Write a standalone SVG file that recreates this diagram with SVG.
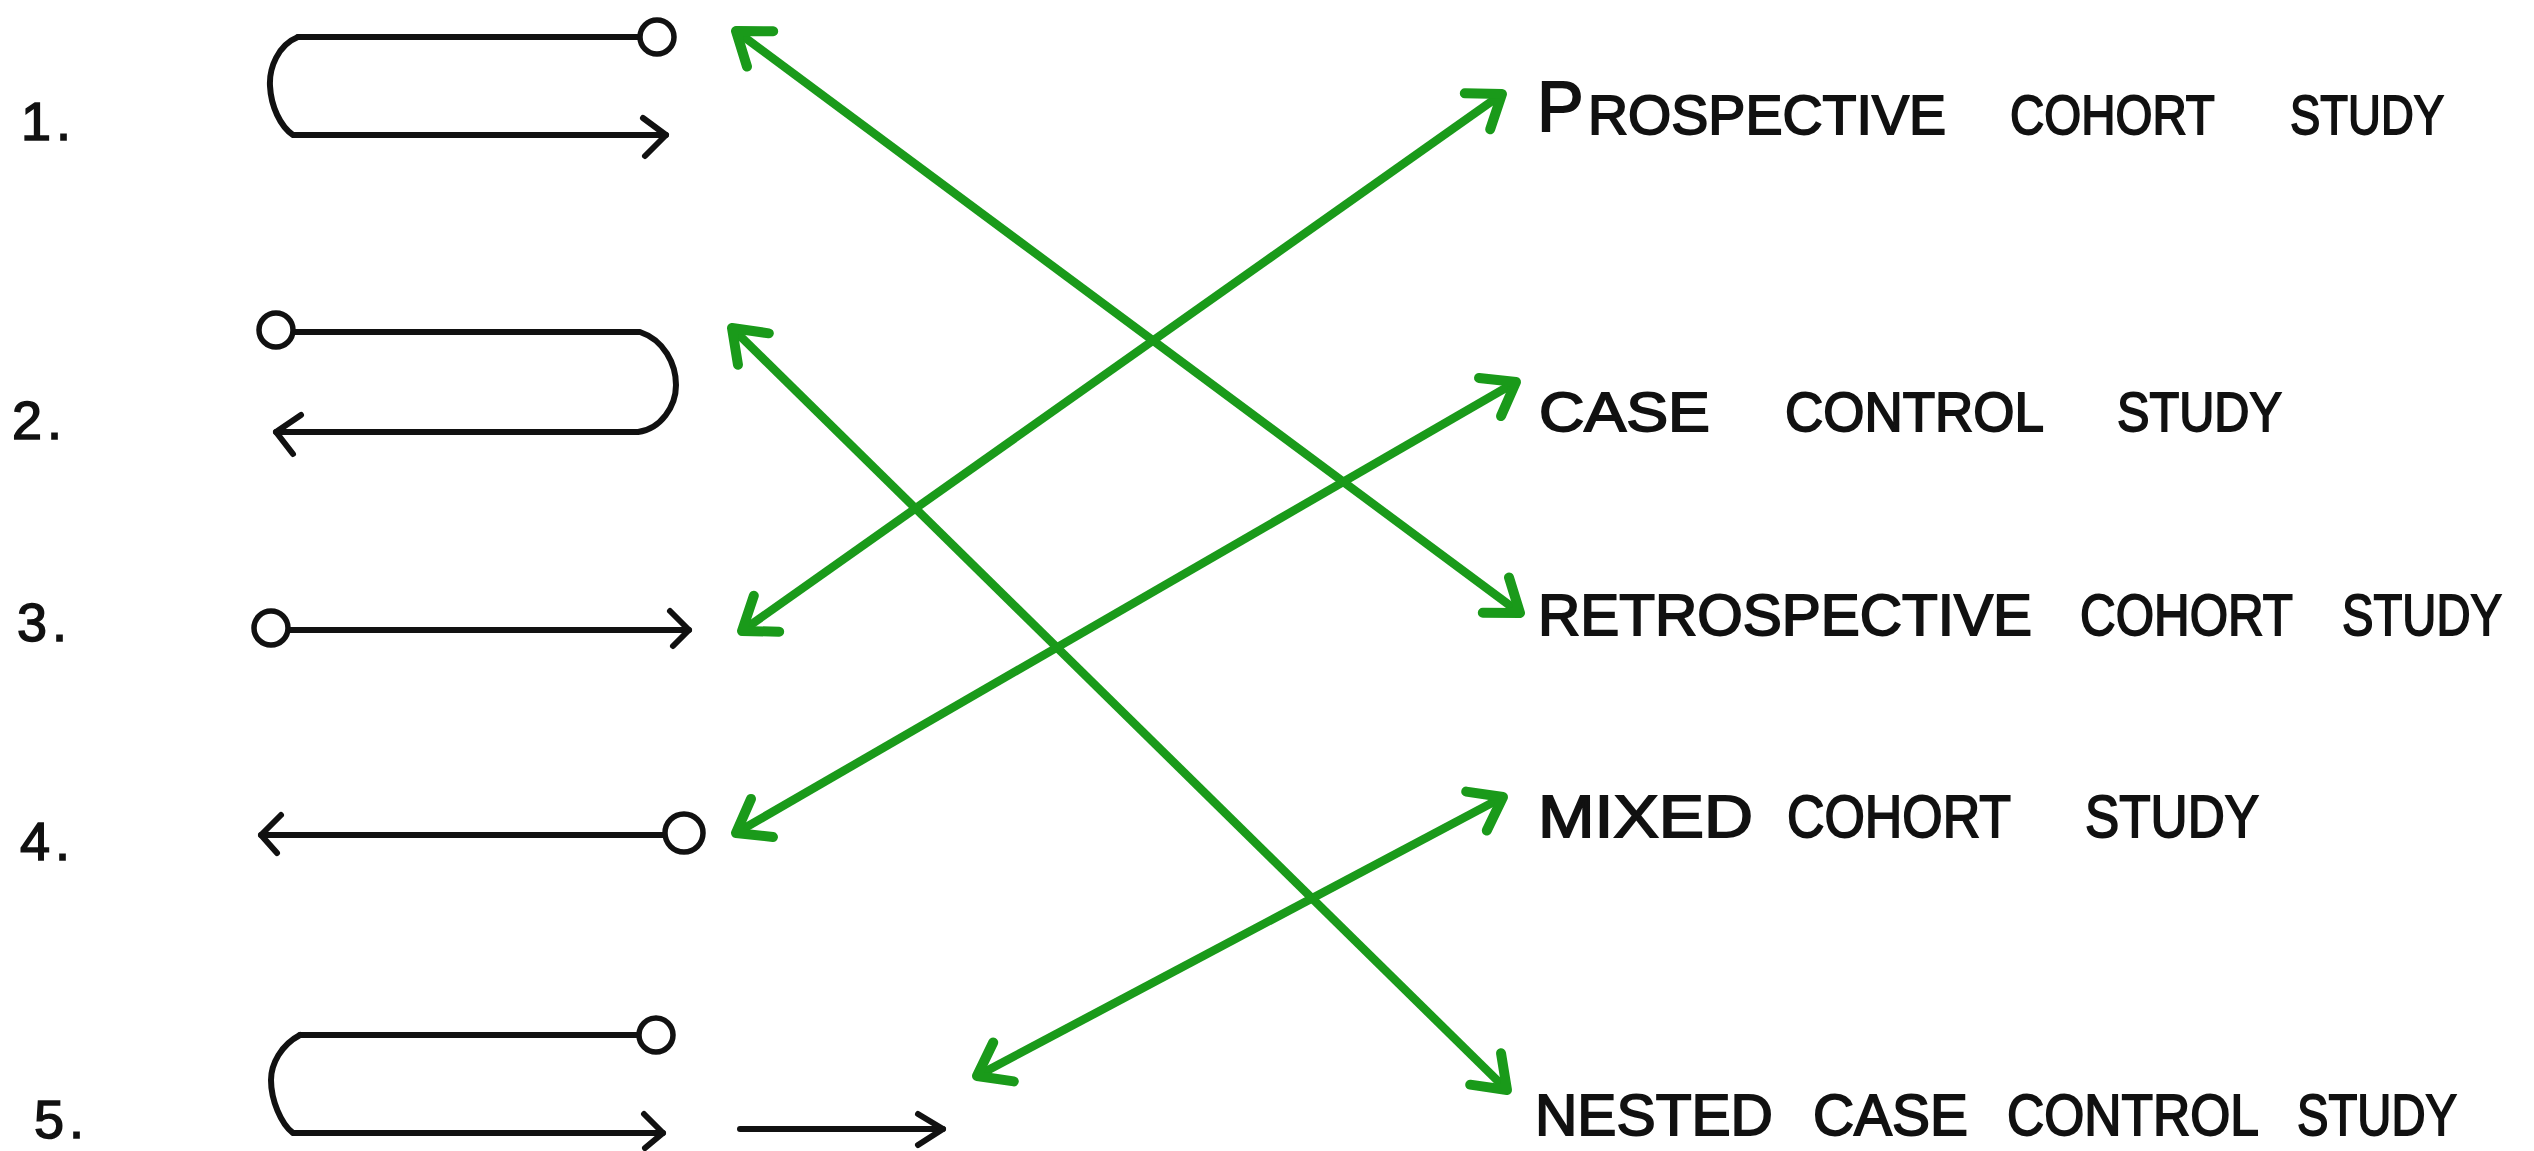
<svg xmlns="http://www.w3.org/2000/svg" width="2534" height="1151" viewBox="0 0 2534 1151">
<style>
.bk{fill:none;stroke:#111;stroke-width:6;stroke-linecap:round;stroke-linejoin:round}
.dot{fill:#fff;stroke:#111;stroke-width:5.5}
.num{font-family:"Liberation Sans",Arial,sans-serif;font-size:54px;fill:#111;stroke:#111;stroke-width:1.5;letter-spacing:5px}
.lbl{font-family:"Liberation Sans",Arial,sans-serif;fill:#111;stroke:#111;stroke-width:1.8}
.gr{fill:none;stroke:#1a9a1a;stroke-width:8.5;marker-start:url(#ah);marker-end:url(#ah)}
</style>
<defs>
<marker id="ah" markerUnits="userSpaceOnUse" markerWidth="60" markerHeight="60" viewBox="-40 -30 60 60" refX="0" refY="0" orient="auto-start-reverse" overflow="visible">
<path d="M-30,-22 L0,0 L-30,22" fill="none" stroke="#1a9a1a" stroke-width="10" stroke-linecap="round" stroke-linejoin="round"/>
</marker>
</defs>
<rect width="2534" height="1151" fill="#fff"/>

<g id="item-1">
<text class="num" x="21" y="140">1.</text>
<path class="bk" d="M298,37 L640,37"/>
<path class="bk" d="M298,37 C278,45 269,68 270,86 C271,106 280,126 293,135 L666,135"/>
<path class="bk" d="M643,118 L666,135 L645,156"/>
<circle class="dot" cx="657" cy="37" r="17"/>
</g>

<g id="item-2">
<text class="num" x="12" y="439">2.</text>
<path class="bk" d="M293,332 L640,332 C664,340 676,364 676,385 C676,406 661,429 638,432 L276,432"/>
<path class="bk" d="M301,415 L276,432 L293,454"/>
<circle class="dot" cx="276" cy="330" r="17"/>
</g>

<g id="item-3">
<text class="num" x="17" y="641">3.</text>
<path class="bk" d="M288,630 L689,630"/>
<path class="bk" d="M670,611 L689,630 L673,646"/>
<circle class="dot" cx="271" cy="628" r="17"/>
</g>

<g id="item-4">
<text class="num" x="20" y="860">4.</text>
<path class="bk" d="M261,835 L664,835"/>
<path class="bk" d="M281,815 L261,835 L277,853"/>
<circle class="dot" cx="684" cy="833" r="19"/>
</g>

<g id="item-5">
<text class="num" x="34" y="1138">5.</text>
<path class="bk" d="M300,1035 L639,1035"/>
<path class="bk" d="M300,1035 C281,1045 271,1064 271,1080 C271,1100 281,1124 293,1133 L663,1133"/>
<path class="bk" d="M644,1114 L663,1133 L645,1148"/>
<circle class="dot" cx="656" cy="1035" r="17"/>
<path class="bk" d="M740,1129 L943,1129"/>
<path class="bk" d="M918,1114 L943,1129 L918,1145"/>
</g>

<g id="label-prospective">
<text class="lbl" y="134" font-size="55"><tspan x="1537" y="131" font-size="70">P</tspan><tspan x="1588" y="134" textLength="358" lengthAdjust="spacingAndGlyphs">ROSPECTIVE</tspan> <tspan x="2010" textLength="204" lengthAdjust="spacingAndGlyphs">COHORT</tspan> <tspan x="2290" textLength="154" lengthAdjust="spacingAndGlyphs">STUDY</tspan></text>
</g>

<g id="label-case-control">
<text class="lbl" y="431" font-size="55"><tspan x="1539" textLength="171" lengthAdjust="spacingAndGlyphs">CASE</tspan> <tspan x="1785" textLength="257" lengthAdjust="spacingAndGlyphs">CONTROL</tspan> <tspan x="2117" textLength="165" lengthAdjust="spacingAndGlyphs">STUDY</tspan></text>
</g>

<g id="label-retrospective">
<text class="lbl" y="635" font-size="57"><tspan x="1538" textLength="494" lengthAdjust="spacingAndGlyphs">RETROSPECTIVE</tspan> <tspan x="2080" textLength="212" lengthAdjust="spacingAndGlyphs">COHORT</tspan> <tspan x="2342" textLength="160" lengthAdjust="spacingAndGlyphs">STUDY</tspan></text>
</g>

<g id="label-mixed">
<text class="lbl" y="837" font-size="59"><tspan x="1538" textLength="215" lengthAdjust="spacingAndGlyphs">MIXED</tspan> <tspan x="1787" textLength="223" lengthAdjust="spacingAndGlyphs">COHORT</tspan> <tspan x="2085" textLength="174" lengthAdjust="spacingAndGlyphs">STUDY</tspan></text>
</g>

<g id="label-nested">
<text class="lbl" y="1135" font-size="57"><tspan x="1535" textLength="238" lengthAdjust="spacingAndGlyphs">NESTED</tspan> <tspan x="1813" textLength="155" lengthAdjust="spacingAndGlyphs">CASE</tspan> <tspan x="2007" textLength="250" lengthAdjust="spacingAndGlyphs">CONTROL</tspan> <tspan x="2297" textLength="160" lengthAdjust="spacingAndGlyphs">STUDY</tspan></text>
</g>

<g id="connectors">
<path class="gr" d="M736,31 L1520,613"/>
<path class="gr" d="M732,328 L1507,1090"/>
<path class="gr" d="M742,631 L1502,94"/>
<path class="gr" d="M736,833 L1516,382"/>
<path class="gr" d="M977,1076 L1503,797"/>
</g>
</svg>
